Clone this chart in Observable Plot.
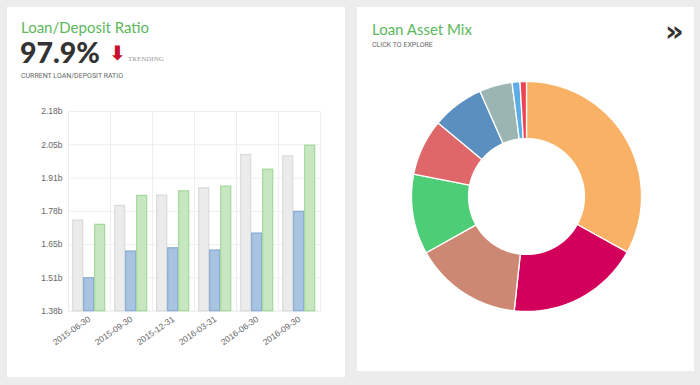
<!DOCTYPE html>
<html><head><meta charset="utf-8">
<script src="https://cdn.jsdelivr.net/npm/d3@7"></script>
<script src="https://cdn.jsdelivr.net/npm/@observablehq/plot@0.6"></script>
<style>
body{margin:0;width:700px;height:385px;background:#ececec;position:relative;overflow:hidden;font-family:Lato,"Open Sans",sans-serif;}
.panel{position:absolute;background:#fff;}
.t{position:absolute;white-space:nowrap;line-height:1;}
#bars,#donut{position:absolute;}
</style></head><body>
<div class="panel" style="left:7px;top:7px;width:338px;height:370px"></div>
<div class="panel" style="left:357px;top:7px;width:337px;height:364px"></div>
<div class="t" style="left:21px;top:20px;font-size:15px;color:#5cb85c">Loan/Deposit Ratio</div>
<div class="t" style="left:20px;top:38px;font-size:28.5px;font-weight:900;color:#333">97.9%</div>
<div class="t" style="left:109px;top:43px;font-size:20px;font-weight:bold;color:#c8102e;font-family:'DejaVu Sans'">⬇</div>
<div class="t" style="left:128px;top:56px;font-size:7px;color:#999;font-family:'Liberation Serif',serif">TRENDING</div>
<div class="t" style="left:21px;top:73px;font-size:7px;color:#666;font-family:Roboto,sans-serif">CURRENT LOAN/DEPOSIT RATIO</div>
<div class="t" style="left:372px;top:22px;font-size:15px;color:#5cb85c">Loan Asset Mix</div>
<div class="t" style="left:372px;top:42px;font-size:7px;color:#666;font-family:Roboto,sans-serif">CLICK TO EXPLORE</div>
<div class="t" style="left:665px;top:17px;font-size:29px;font-weight:bold;color:#333;font-family:'DejaVu Sans'">»</div>
<div id="bars" style="left:7px;top:95px"></div>
<div id="donut" style="left:406px;top:75.7px"></div>
<script>
// Bar chart data (billions)
const dates = ["2015-06-30","2015-09-30","2015-12-31","2016-03-31","2016-06-30","2016-09-30"];
const series = ["Total Loans","Core Loans","Total Deposits"];
const totalLoans = [1.743,1.802,1.843,1.872,2.006,2.000];
const coreLoans = [1.512,1.619,1.632,1.623,1.691,1.778];
const totalDeposits = [1.726,1.842,1.860,1.879,1.947,2.043];
const yTicks = [1.38,1.5133,1.6467,1.78,1.9133,2.0467,2.18];
const barFill = ["#ebebeb","#a9c4e0","#c6e7c0"];
const barStroke = ["#dadada","#86aad3","#a3d899"];

// Donut data (share of loan assets, %)
const sliceNames = ["Commercial Real Estate","Commercial & Industrial","Residential Mortgage","Construction","Home Equity","Multifamily","Consumer","Agriculture","Other"];
const sliceShares = [32.9,18.6,15.1,11.2,7.9,7.3,4.6,1.1,0.9];
const sliceColors = ["#f9b265","#d2005a","#cc8872","#4ccd76","#df6669","#5b8fbf","#9bb5b3","#5badE6","#ee4452"];

const rows = [];
const seriesValues = [totalLoans, coreLoans, totalDeposits];
dates.forEach((d,i)=>seriesValues.forEach((arr,j)=>rows.push({date:d, series:series[j], value:arr[i]})));

const bars = Plot.plot({
  width:338, height:270, marginLeft:61.3, marginRight:24.7, marginTop:16, marginBottom:54.3,
  style:{background:"transparent", fontFamily:"'Liberation Sans', Arial, sans-serif", fontSize:"8.5px", color:"#666"},
  fx:{domain:dates, padding:0, label:null, axis:"bottom", tickRotate:-35, tickSize:0, tickPadding:7},
  x:{domain:series, axis:null, paddingInner:0.112, paddingOuter:0.366},
  y:{domain:[yTicks[0], yTicks[yTicks.length-1]], ticks:yTicks, tickFormat:d=>d.toFixed(2)+"b", tickSize:0, tickPadding:6, label:null},
  marks:[
    Plot.ruleY(yTicks, {stroke:"#eeeeee"}),
    Plot.frame({stroke:"#eeeeee"}),
    ...series.map((s,j)=>Plot.barY(rows.filter(r=>r.series===s), {fx:"date", x:"series", y1:yTicks[0], y2:"value", fill:barFill[j], stroke:barStroke[j], strokeWidth:1.2}))
  ]
});
document.getElementById("bars").appendChild(bars);

// Donut polygons
const total = d3.sum(sliceShares);
const inner = 0.504;
const pts = [];
let cum = 0;
sliceShares.forEach((v,i)=>{
  const a0 = cum/total*2*Math.PI, a1 = (cum+v)/total*2*Math.PI;
  cum += v;
  const n = Math.max(2, Math.ceil((a1-a0)/0.01));
  for (let k=0;k<=n;k++){const a=a0+(a1-a0)*k/n; pts.push({name:sliceNames[i], color:sliceColors[i], x:Math.sin(a), y:Math.cos(a)});}
  for (let k=n;k>=0;k--){const a=a0+(a1-a0)*k/n; pts.push({name:sliceNames[i], color:sliceColors[i], x:inner*Math.sin(a), y:inner*Math.cos(a)});}
});
const donut = Plot.plot({
  width:240, height:240, margin:5,
  style:{background:"transparent"},
  x:{domain:[-1,1], axis:null}, y:{domain:[-1,1], axis:null},
  marks:[
    Plot.line(pts, {x:"x", y:"y", z:"name", fill:d=>d.color, stroke:"white", strokeWidth:1.3, curve:"linear-closed"})
  ]
});
document.getElementById("donut").appendChild(donut);
</script>
</body></html>
